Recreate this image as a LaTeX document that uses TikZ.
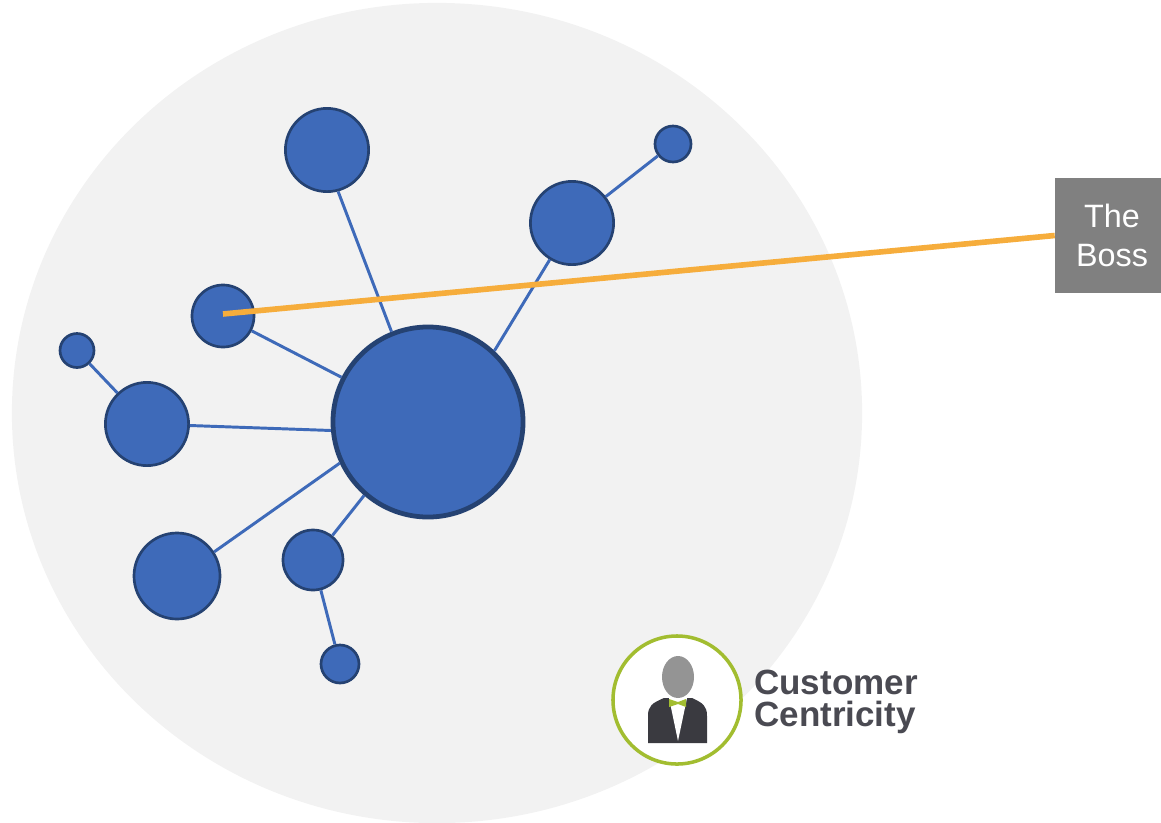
\documentclass[tikz,border=0pt]{standalone}
\usepackage{fontspec}
\setmainfont{Liberation Sans}
\usetikzlibrary{shapes.geometric}
\definecolor{hubblue}{HTML}{3E6AB9}
\definecolor{hubborder}{HTML}{254272}
\definecolor{bossorange}{HTML}{F6AD3C}
\definecolor{logogreen}{HTML}{A2BD30}
\definecolor{logodark}{HTML}{3A3A40}
\definecolor{logotext}{HTML}{4A4A52}
\begin{document}
\begin{tikzpicture}[
                        x=0.025cm,
                        y=-0.025cm,
                        person/.style={
                            circle,
                            draw=hubborder,
                            fill=hubblue,
                            line width=1.9pt,
                            inner sep=0pt
                        },
                        line/.style={
                            draw=hubblue,
                            line width=2.1pt
                        }]

                        \useasboundingbox (0,0) rectangle (1161,822);

                        \node (background) [ellipse, fill=black!5, inner sep=0pt, minimum width=21.25cm, minimum height=20.5cm] at (437,413) {};

                        \node (centre) [person, line width=3.4pt, minimum size=4.75cm] at (428,422) {};
                        \node (top) [person, minimum size=2.08cm] at (327,150) {};
                        \node (upper_right) [person, minimum size=2.08cm] at (572,223) {};
                        \node (upper_right_small) [person, minimum size=0.9cm] at (673,144) {};
                        \node (boss_position) [person, minimum size=1.55cm] at (223,316) {};
                        \node (left_small) [person, minimum size=0.85cm] at (77,350.5) {};
                        \node (left) [person, minimum size=2.08cm] at (147,424) {};
                        \node (lower_left) [person, minimum size=2.15cm] at (177,576) {};
                        \node (lower) [person, minimum size=1.5cm] at (313,560) {};
                        \node (lower_small) [person, minimum size=0.95cm] at (340,664) {};

                        \draw [line] (centre.112) -- (top.285);
                        \draw [line] (centre.47) -- (upper_right);
                        \draw [line] (upper_right) -- (upper_right_small);
                        \draw [line] (centre) -- (boss_position);
                        \draw [line] (centre.185) -- (left);
                        \draw [line] (left) -- (left_small);
                        \draw [line] (centre.205) -- (lower_left.33);
                        \draw [line] (centre.229) -- (lower);
                        \draw [line] (lower) -- (lower_small);

                        \node (the_boss) [rectangle, fill=black!50, text=white, align=center, inner sep=0pt, minimum width=2.65cm, minimum height=2.875cm, font=\fontsize{23}{27.7}\selectfont] at (1108,235.5) {\hspace*{0.2cm}The\\\hspace*{0.2cm}Boss};
                        \draw [draw=bossorange, line width=4pt] ([yshift=0.05cm]boss_position.center) -- (the_boss.west);

                        % logo
                        \node (logo) [circle, draw=logogreen, fill=white, line width=2.5pt, inner sep=0pt, minimum size=3.2cm] at (677,700) {};
                        \fill [logodark] (648,743) -- (648,716) .. controls (648,706) and (652,703) .. (664,698) -- (692,698) .. controls (703,703) and (707,706) .. (707,716) -- (707,743) -- cycle;
                        \fill [white] (669,698) -- (678,741) -- (687,698) -- cycle;
                        \fill [black!42] (678,677) ellipse (16 and 21);
                        \fill [logogreen] (669,699) -- (678,702) -- (686,699) -- (686,707) -- (678,704) -- (669,707) -- cycle;
                        \node (logo_text) [anchor=west, align=left, inner sep=0pt, text=logotext, font=\fontsize{24.9}{22.7}\selectfont\bfseries] at (754,702) {Customer\\Centricity};

                    \end{tikzpicture}
\end{document}
